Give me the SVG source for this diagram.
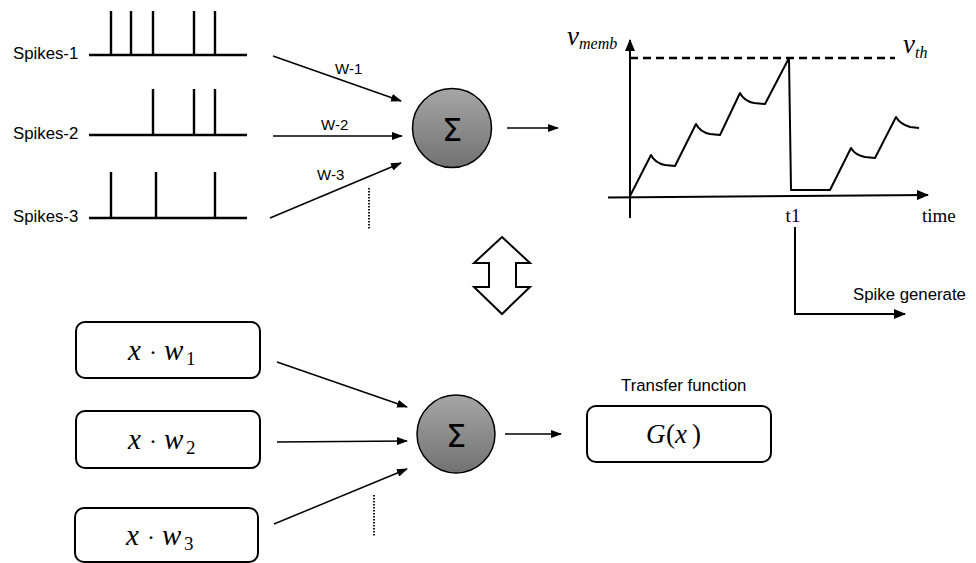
<svg xmlns="http://www.w3.org/2000/svg" width="976" height="563" viewBox="0 0 976 563">
  <style>
    .lbl { font-family: "Liberation Sans", Arial, sans-serif; font-size: 16.8px; fill: #000; }
    .w { font-family: "Liberation Sans", Arial, sans-serif; font-size: 15px; fill: #000; }
    .serif { font-family: "Liberation Serif", "Times New Roman", serif; font-size: 19px; fill: #000; }
    .math { font-family: "Liberation Serif", "Times New Roman", serif; font-style: italic; fill: #000; }
    .up { font-family: "Liberation Serif", "Times New Roman", serif; fill: #000; }
    .train { stroke: #000; stroke-width: 2.4; fill: none; }
    .conn { stroke: #000; stroke-width: 1.5; fill: none; marker-end: url(#ah); }
    .axis { stroke: #000; stroke-width: 2; fill: none; }
    .box { fill: #fff; stroke: #000; stroke-width: 2; }
    .neuron { fill: url(#grey); stroke: #000; stroke-width: 1.5; }
    .sigma { font-family: "DejaVu Sans", sans-serif; font-size: 32px; fill: #000; text-anchor: middle; }
    .dots { stroke: #000; stroke-width: 1.8; stroke-dasharray: 1.5 1.5; }
  </style>
  <defs>
    <marker id="ah" markerWidth="11" markerHeight="8" refX="10" refY="4" orient="auto" markerUnits="userSpaceOnUse">
      <path d="M0,0 L11,4 L0,8 Z" fill="#000"/>
    </marker>
    <marker id="ah2" markerWidth="12" markerHeight="10" refX="11" refY="5" orient="auto" markerUnits="userSpaceOnUse">
      <path d="M0,0 L12,5 L0,10 Z" fill="#000"/>
    </marker>
    <linearGradient id="grey" x1="0" y1="0" x2="0" y2="1">
      <stop offset="0" stop-color="#a6a6a6"/>
      <stop offset="1" stop-color="#727272"/>
    </linearGradient>
  </defs>

  <rect width="976" height="563" fill="#fff"/>

  <!-- input spike trains -->
  <g id="spikes-1">
    <text class="lbl" x="13" y="59">Spikes-1</text>
    <path class="train" d="M89,55 H247 M111,55 V11 M131,55 V11 M153,55 V11 M194,55 V11 M215,55 V11"/>
  </g>
  <g id="spikes-2">
    <text class="lbl" x="13" y="139">Spikes-2</text>
    <path class="train" d="M89,135 H247 M153,135 V89 M194,135 V89 M215,135 V89"/>
  </g>
  <g id="spikes-3">
    <text class="lbl" x="13" y="222">Spikes-3</text>
    <path class="train" d="M89,218 H247 M111,218 V172 M156,218 V172 M215,218 V172"/>
  </g>

  <!-- summing neuron (spiking) -->
  <g id="sum-spiking">
    <circle class="neuron" cx="452" cy="128" r="39.5"/>
    <text class="sigma" x="452" y="141">Σ</text>
  </g>

  <!-- membrane potential plot -->
  <g id="membrane-plot">
    <path class="axis" d="M630,218 V40" marker-end="url(#ah2)"/>
    <path class="axis" d="M608,197.5 L928,195" marker-end="url(#ah2)"/>
    <path d="M630,58 H895" stroke="#000" stroke-width="2.4" stroke-dasharray="8 5"/>
    <path fill="none" stroke="#000" stroke-width="2" stroke-linejoin="round"
          d="M630,196 L651,155 Q655,163 665,165 L675,166 L696,124 Q700,132 710,134 L720,135 L740,93 Q744,101 754,103 L765,104 L789,58 L791,190 L830,190 L851,148 Q855,155 865,157 L875,158 L896,117 Q900,124 910,127 L919,128"/>
    <text x="567" y="45"><tspan class="math" font-size="27">v</tspan><tspan class="math" font-size="16" dy="4">memb</tspan></text>
    <text x="903" y="53"><tspan class="math" font-size="27">v</tspan><tspan class="math" font-size="16" dy="5">th</tspan></text>
    <text class="serif" x="793" y="222" text-anchor="middle">t1</text>
    <text class="serif" x="922" y="222">time</text>
  </g>

  <!-- spike output -->
  <g id="spike-generate">
    <path class="axis" d="M795,227 V314 H905" marker-end="url(#ah2)"/>
    <text class="lbl" x="853" y="300">Spike generate</text>
  </g>

  <!-- equivalence arrow -->
  <g id="equivalence">
    <polygon points="502,237 530,263 516,263 516,287 530,287 502,314 474,287 489,287 489,263 474,263" fill="#fff" stroke="#000" stroke-width="2" stroke-linejoin="miter"/>
  </g>

  <!-- weighted inputs -->
  <g id="input-1">
    <rect class="box" x="76" y="322" width="184" height="56" rx="9"/>
    <text y="360"><tspan class="math" font-size="29" x="128">x</tspan><tspan class="up" font-size="24" x="149">·</tspan><tspan class="math" font-size="29" x="164">w</tspan><tspan class="up" font-size="19" x="186" dy="5">1</tspan></text>
  </g>
  <g id="input-2">
    <rect class="box" x="76" y="411" width="184" height="57" rx="9"/>
    <text y="449"><tspan class="math" font-size="29" x="128">x</tspan><tspan class="up" font-size="24" x="149">·</tspan><tspan class="math" font-size="29" x="164">w</tspan><tspan class="up" font-size="19" x="186" dy="5">2</tspan></text>
  </g>
  <g id="input-3">
    <rect class="box" x="75" y="508" width="183" height="54" rx="9"/>
    <text y="545"><tspan class="math" font-size="29" x="126">x</tspan><tspan class="up" font-size="24" x="147">·</tspan><tspan class="math" font-size="29" x="162">w</tspan><tspan class="up" font-size="19" x="184" dy="5">3</tspan></text>
  </g>

  <!-- summing neuron (conventional) -->
  <g id="sum-conventional">
    <circle class="neuron" cx="456" cy="434" r="39"/>
    <text class="sigma" x="456" y="447">Σ</text>
  </g>

  <!-- transfer function -->
  <g id="transfer">
    <text class="lbl" x="621" y="391">Transfer function</text>
    <rect class="box" x="587" y="406" width="184" height="56" rx="9"/>
    <text y="443" font-size="27"><tspan class="math" x="646">G</tspan><tspan class="up" fill="#7a6262" x="666">(</tspan><tspan class="math" fill="#7a6262" x="675">x</tspan><tspan class="up" fill="#7a6262" x="692">)</tspan></text>
  </g>

  <!-- connectors -->
  <g id="connectors">
    <line class="conn" x1="273" y1="56" x2="401" y2="101"/>
    <line class="conn" x1="273" y1="136" x2="402" y2="136"/>
    <line class="conn" x1="270" y1="218" x2="401" y2="163"/>
    <line class="dots" x1="369" y1="188" x2="369" y2="230"/>
    <line class="conn" x1="507" y1="128" x2="558" y2="128"/>

    <line class="conn" x1="277" y1="362" x2="407" y2="407"/>
    <line class="conn" x1="277" y1="442" x2="407" y2="441"/>
    <line class="conn" x1="274" y1="524" x2="407" y2="469"/>
    <line class="dots" x1="374" y1="495" x2="374" y2="537"/>
    <line class="conn" x1="505" y1="434" x2="561" y2="434"/>
  </g>

  <!-- weight labels -->
  <g id="weights">
    <text class="w" x="335" y="74">W-1</text>
    <text class="w" x="321" y="130">W-2</text>
    <text class="w" x="317" y="180">W-3</text>
  </g>
</svg>
